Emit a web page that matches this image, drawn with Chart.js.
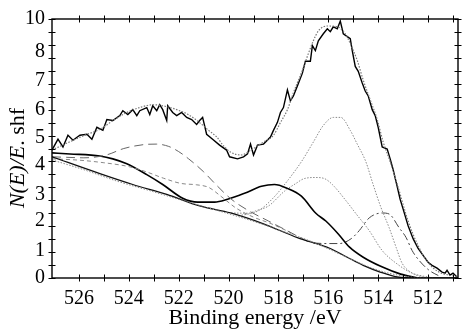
<!DOCTYPE html>
<html>
<head>
<meta charset="utf-8">
<script src="https://cdn.jsdelivr.net/npm/chart.js@4.4.0/dist/chart.umd.min.js"></script>
<style>
  body { margin: 0; background: #fff; }
</style>
</head>
<body>
<canvas id="myChart" width="462" height="329"></canvas>
<script>
// measured spectrum (binding energy / intensity)
var rawE = [527.08,526.84,526.64,526.44,526.24,525.96,525.68,525.48,525.28,525.04,524.88,524.64,524.36,524.24,524.04,523.84,523.68,523.56,523.28,523.16,523.04,522.88,522.76,522.64,522.48,522.44,522.24,522.08,521.88,521.68,521.48,521.28,521.16,521.04,520.88,520.64,520.36,520.08,519.96,519.64,519.40,519.24,519.12,519.00,518.84,518.60,518.32,518.20,518.04,517.92,517.80,517.64,517.52,517.40,517.24,517.04,516.92,516.72,516.64,516.52,516.40,516.20,516.04,515.92,515.80,515.64,515.52,515.40,515.24,515.12,515.04,514.92,514.80,514.64,514.52,514.40,514.24,514.12,514.00,513.84,513.64,513.52,513.40,513.24,513.12,513.00,512.80,512.60,512.40,512.20,512.00,511.84,511.64,511.44,511.32,511.24,511.12,511.00,510.84];
var rawI = [4.94,5.36,5.06,5.51,5.32,5.51,5.55,5.36,5.82,5.70,6.12,6.08,6.27,6.46,6.31,6.50,6.27,6.46,6.58,6.31,6.65,6.46,6.69,6.50,6.08,6.65,6.39,6.27,6.39,6.20,6.12,5.93,6.08,6.20,5.55,5.36,5.13,4.94,4.68,4.60,4.68,4.79,5.17,4.75,5.13,5.17,5.44,5.70,6.01,6.39,6.58,7.26,6.84,7.03,7.41,7.91,8.37,8.37,8.97,8.78,9.16,9.43,9.62,9.51,9.70,9.62,9.92,9.43,9.32,9.24,8.78,8.17,7.98,7.53,7.22,7.03,6.50,6.27,5.82,5.06,4.98,4.60,4.18,3.54,3.04,2.66,2.02,1.52,1.14,0.87,0.61,0.49,0.38,0.23,0.19,0.30,0.11,0.19,0.04];

// fitted envelope
var envE = [527.08,526.5,525.8,525.16,524.6,524.08,523.5,523.04,522.5,522.08,521.6,521.16,520.8,520.48,520.2,519.9,519.5,519.1,518.6,518.2,517.92,517.64,517.4,517.04,516.84,516.6,516.4,516.04,515.64,515.32,515.12,514.84,514.6,514.32,514.04,513.8,513.52,513.2,512.8,512.4,512.0,511.6,511.2,510.8];
var envI = [4.94,5.2,5.5,5.74,6.1,6.39,6.6,6.69,6.62,6.5,6.3,6.0,5.7,5.45,5.1,4.85,4.75,4.94,5.25,5.51,6.0,6.5,7.15,8.02,8.56,9.16,9.54,9.73,9.7,9.43,9.05,8.4,7.64,6.88,6.12,5.25,4.49,3.5,2.2,1.25,0.6,0.25,0.12,0.05];

// backgrounds
var bgE = [527.08,525.16,523.84,522.48,521.16,519.92,518.6,517.24,515.92,515.24,514.6,513.92,513.24,512.44,510.8];
var bgI = [4.68,4.03,3.61,3.23,2.78,2.51,2.09,1.56,1.14,0.80,0.49,0.23,0.04,0,0];
var bg2E = [527.08,525.8,524.44,523.08,521.8,520.5,519.2,517.9,516.6,515.3,514.0,512.8,511.8];
var bg2I = [4.56,4.18,3.73,3.35,2.98,2.62,2.25,1.83,1.38,0.82,0.3,0.05,0];

// fitted components
var c1E = [527.08,526.5,525.8,524.9,524.2,523.4,522.9,522.4,522.0,521.6,521.0,520.5,519.9,519.2,518.4,517.5,516.8];
var c1I = [4.68,4.66,4.64,4.75,5.0,5.15,5.17,5.08,4.88,4.6,4.1,3.6,3.05,2.6,2.2,1.75,1.4];
var c2E = [527.08,526.0,525.0,524.0,523.3,522.6,521.9,521.3,520.8,520.3,519.7,519.0,518.3,517.5];
var c2I = [4.6,4.55,4.45,4.3,4.1,3.85,3.65,3.6,3.5,3.15,2.7,2.35,2.1,1.75];
var c3E = [527.08,526.36,525.16,524.64,524.08,523.28,522.64,521.84,521.24,520.56,520.04,519.36,518.68,518.16,517.64,517.08,516.5,516.1,515.6,515.16,514.6,513.9,513.1,512.4];
var c3I = [4.83,4.79,4.71,4.60,4.41,3.99,3.61,3.08,2.93,2.93,3.04,3.27,3.54,3.61,3.46,3.16,2.5,2.2,1.7,1.2,0.8,0.45,0.15,0];
var c4E = [519.9,519.2,518.92,518.4,517.76,517.3,516.96,516.5,516.16,515.84,515.28,514.88,514.36,513.84,513.28,512.64,511.8];
var c4I = [2.51,2.5,2.59,2.78,3.35,3.65,3.84,3.88,3.84,3.61,2.97,2.47,1.83,1.06,0.57,0.19,0];
var c5E = [519.6,518.8,518.2,517.6,517.08,516.6,516.2,515.8,515.5,515.12,514.84,514.5,514.2,513.9,513.56,513.28,513.04,512.64,512.2];
var c5I = [2.4,2.6,3.1,3.8,4.49,5.25,5.89,6.2,6.2,5.7,5.17,4.5,3.6,2.75,1.94,1.18,0.57,0.19,0.03];
var c6E = [516.6,516.08,515.56,515.08,514.76,514.36,513.84,513.56,513.16,512.88,512.64,512.36,511.96,511.5];
var c6I = [1.35,1.33,1.33,1.52,1.83,2.32,2.51,2.47,1.94,1.56,1.06,0.68,0.3,0.05];

// axis ticks
var xTickVals = [526,524,522,520,518,516,514,512];
var xMinor = [511,512,513,514,515,516,517,518,519,520,521,522,523,524,525,526];
var yLabelVals = [0,1.06,2.21,3.23,4.37,5.4,6.5,7.6,8.75,10];
var yLabelText = ['0','1','2','3','4','5','6','7','8','10'];
var yMinor = [0,0.5,1,1.5,2,2.5,3,3.5,4,4.5,5,5.5,6,6.5,7,7.5,8,8.5,9,9.5,10];

function pts(xs, ys) {
    return xs.map(function (x, i) { return { x: x, y: ys[i] }; });
}

function line(xs, ys, color, width, dash, smooth) {
    return {
        data: pts(xs, ys),
        borderColor: color,
        borderWidth: width,
        borderDash: dash,
        pointRadius: 0,
        fill: false,
        tension: smooth ? 0.4 : 0,
        cubicInterpolationMode: smooth ? 'monotone' : 'default'
    };
}

var serif = 'Liberation Serif, Times New Roman, serif';

// box with ticks crossing the frame, plus the mixed-style y title
var framePlugin = {
    id: 'frame',
    afterDraw: function (chart) {
        var a = chart.chartArea, c = chart.ctx;
        var sx = chart.scales.x, sy = chart.scales.y;
        c.save();
        c.strokeStyle = '#000';
        c.lineWidth = 1.4;
        c.strokeRect(a.left, a.top, a.right - a.left, a.bottom - a.top);
        c.lineWidth = 1;
        c.beginPath();
        xMinor.forEach(function (v) {
            var px = Math.round(sx.getPixelForValue(v)) + 0.5;
            c.moveTo(px, a.bottom - 3.5); c.lineTo(px, a.bottom + 3.5);
            c.moveTo(px, a.top - 3.5); c.lineTo(px, a.top + 3.5);
        });
        yMinor.forEach(function (v) {
            var py = Math.round(sy.getPixelForValue(v)) + 0.5;
            c.moveTo(a.left - 3.5, py); c.lineTo(a.left + 3.5, py);
            c.moveTo(a.right - 3.5, py); c.lineTo(a.right + 3.5, py);
        });
        c.stroke();

        c.translate(18, 158);
        c.rotate(-Math.PI / 2);
        c.fillStyle = '#000';
        c.textBaseline = 'middle';
        var fi = 'italic 22px ' + serif, fn = '22px ' + serif;
        c.font = fi; var w1 = c.measureText('N(E)/E').width;
        c.font = fn; var w2 = c.measureText('. shf').width;
        var x0 = -(w1 + w2) / 2;
        c.font = fi; c.fillText('N(E)/E', x0, 0);
        c.font = fn; c.fillText('. shf', x0 + w1, 0);
        c.restore();
    }
};

var ctx = document.getElementById('myChart').getContext('2d');
var myChart = new Chart(ctx, {
    type: 'line',
    data: {
        datasets: [
            line(bg2E, bg2I, '#8a8a8a', 1, [1.5, 1.5], true),
            line(bgE, bgI, '#111', 1.3, [], true),
            line(c1E, c1I, '#666', 1, [9, 5], true),
            line(c2E, c2I, '#888', 1, [4, 3], true),
            line(c3E, c3I, '#000', 1.6, [], true),
            line(c4E, c4I, '#8a8a8a', 1, [1.5, 1.5], true),
            line(c5E, c5I, '#8a8a8a', 1, [1.5, 1.5], true),
            line(c6E, c6I, '#444', 1, [8, 3, 2, 3], true),
            line(envE, envI, '#777', 1.2, [1.5, 1.5], true),
            line(rawE, rawI, '#000', 1.4, [], false)
        ]
    },
    options: {
        responsive: false,
        animation: false,
        devicePixelRatio: 1,
        layout: { padding: { top: 15, right: 4, bottom: 0, left: 0 } },
        plugins: {
            legend: { display: false },
            tooltip: { enabled: false }
        },
        scales: {
            x: {
                type: 'linear',
                reverse: true,
                min: 510.8,
                max: 527.08,
                grid: { display: false, drawTicks: false },
                border: { display: false },
                afterBuildTicks: function (s) {
                    s.ticks = xTickVals.map(function (v) { return { value: v }; });
                },
                afterFit: function (s) { s.height = 51; },
                ticks: {
                    autoSkip: false,
                    maxRotation: 0,
                    padding: 9,
                    color: '#000',
                    font: { family: serif, size: 20 },
                    callback: function (v) { return String(v); }
                },
                title: {
                    display: true,
                    text: 'Binding energy /eV',
                    color: '#000',
                    padding: 0,
                    font: { family: serif, size: 22, lineHeight: 1 }
                }
            },
            y: {
                min: 0,
                max: 10,
                grid: { display: false, drawTicks: false },
                border: { display: false },
                afterBuildTicks: function (s) {
                    s.ticks = yLabelVals.map(function (v) { return { value: v }; });
                },
                afterFit: function (s) { s.width = 52; },
                ticks: {
                    autoSkip: false,
                    padding: 7,
                    color: '#000',
                    font: { family: serif, size: 20 },
                    callback: function (v, i) { return yLabelText[i]; }
                }
            }
        }
    },
    plugins: [framePlugin]
});
</script>
</body>
</html>
